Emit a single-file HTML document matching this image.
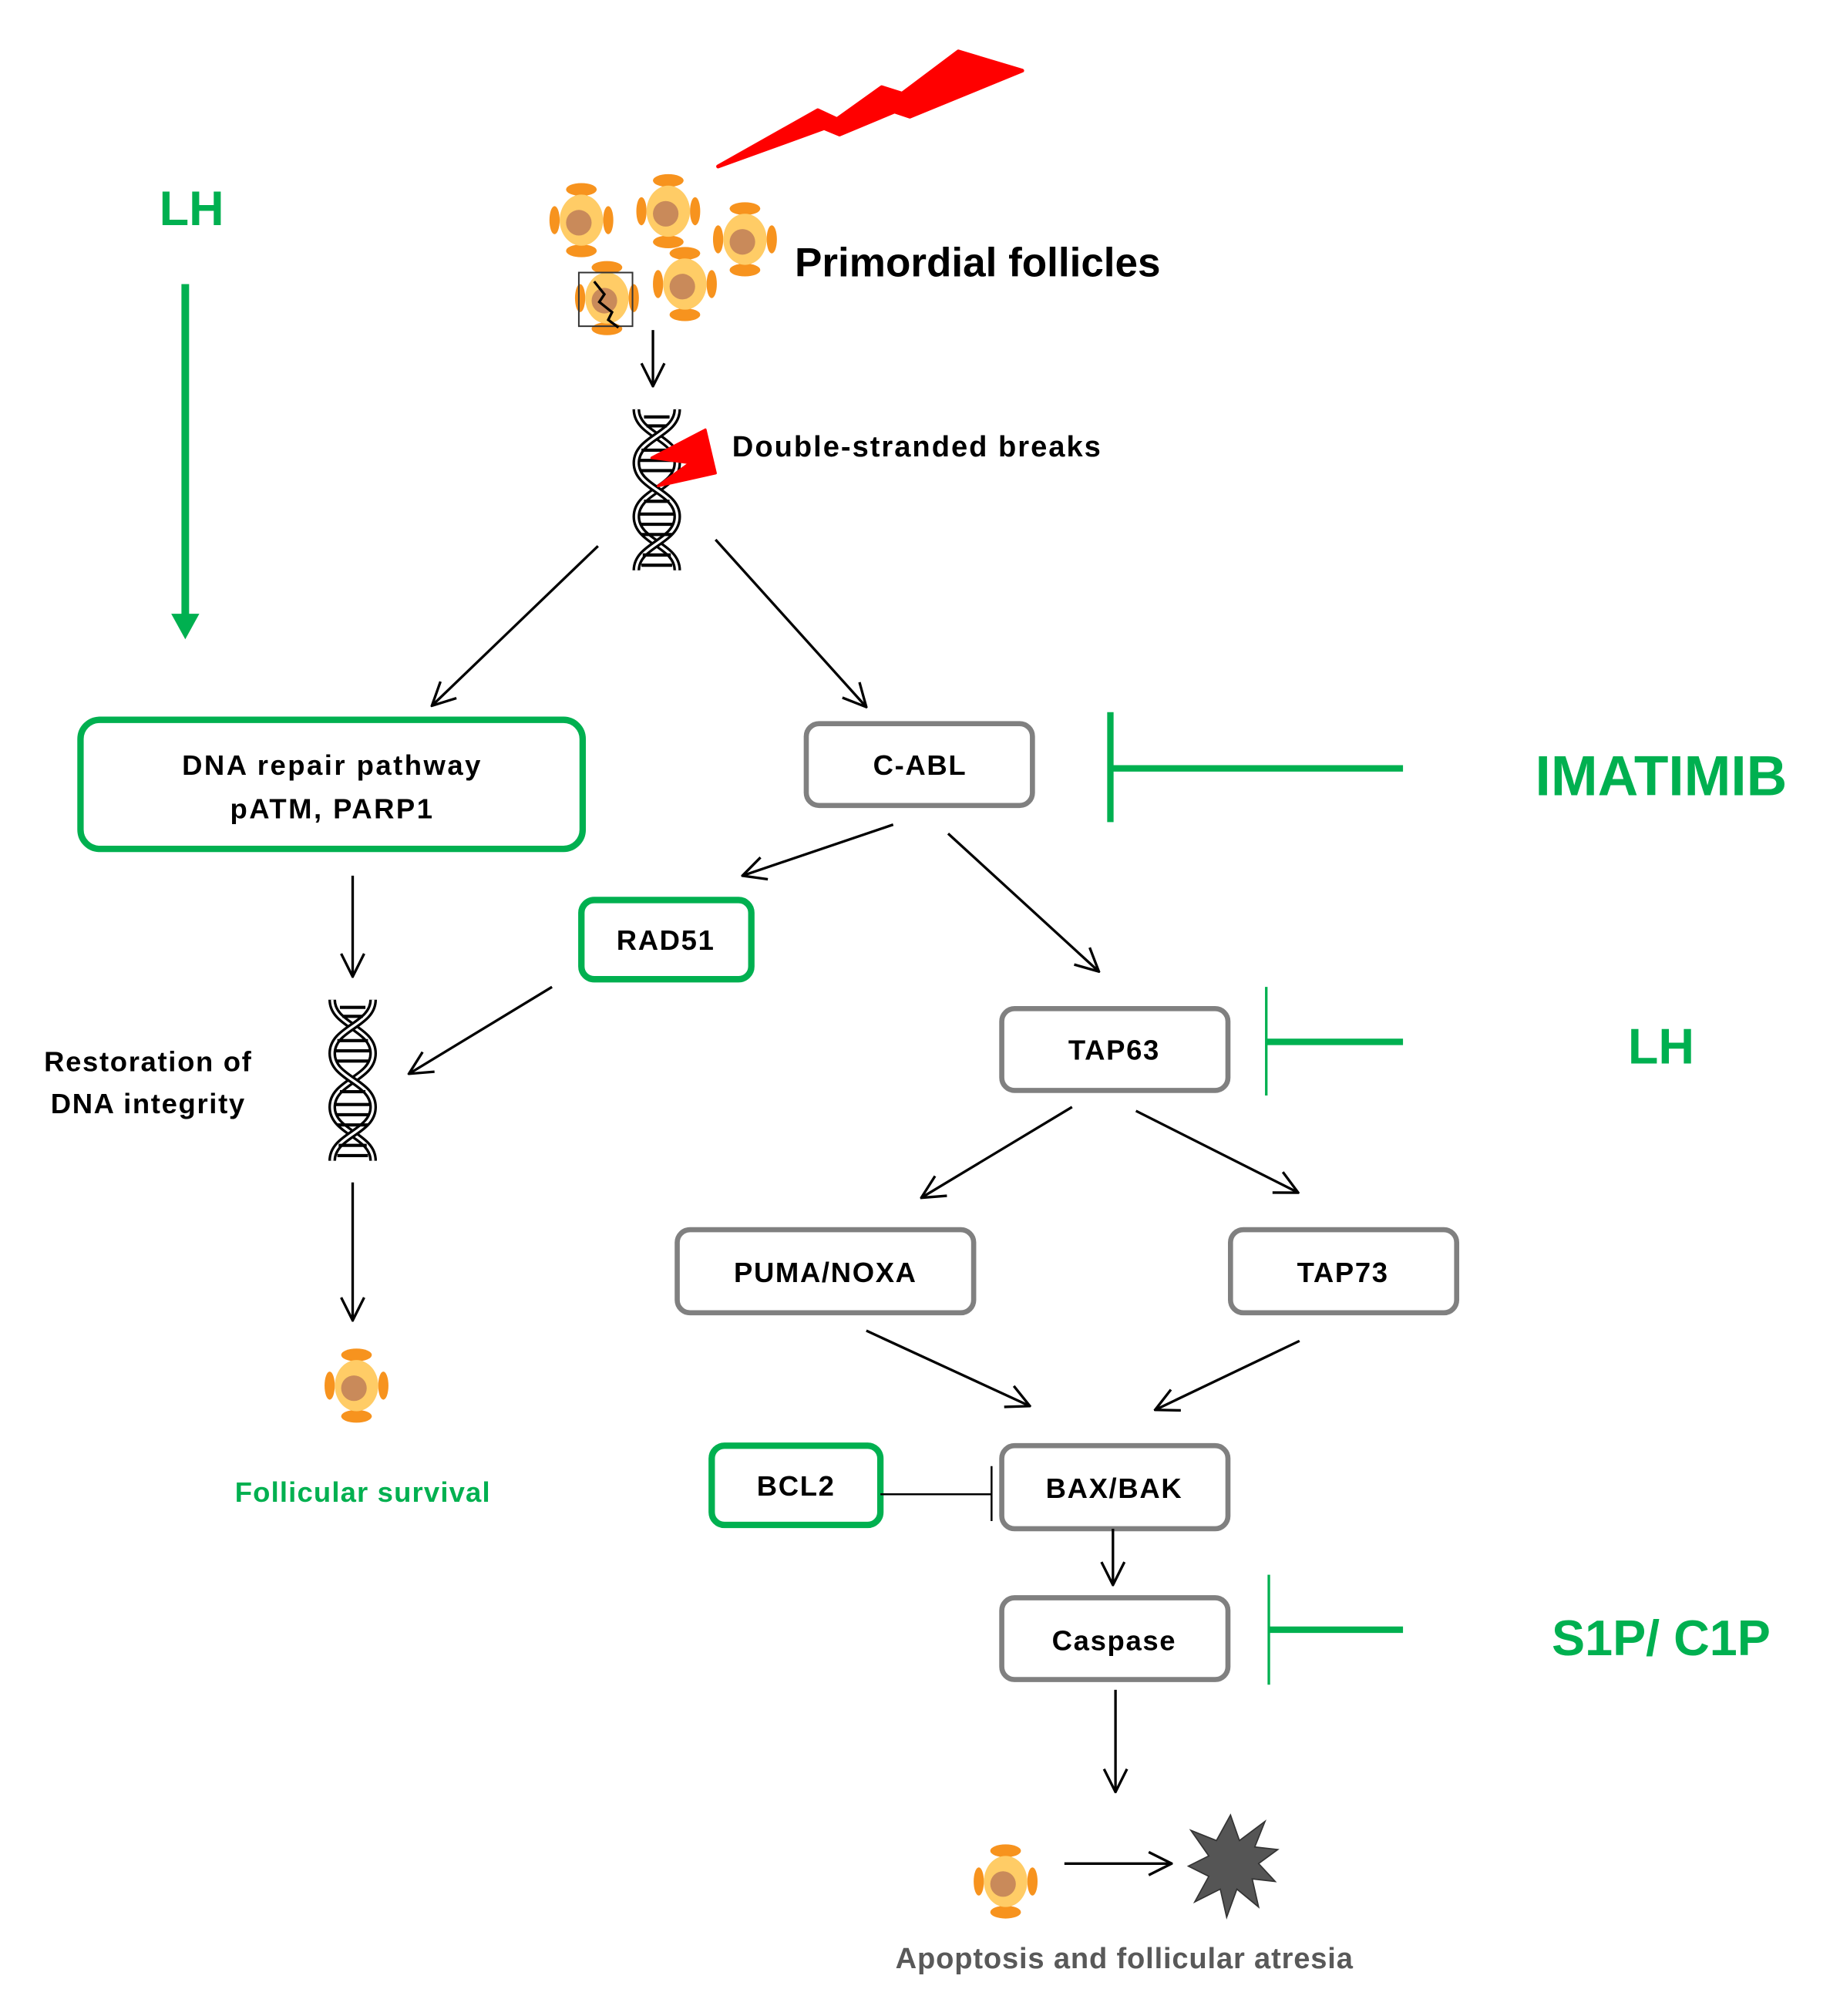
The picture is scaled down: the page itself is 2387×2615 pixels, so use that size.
<!DOCTYPE html>
<html><head><meta charset="utf-8"><style>html,body{margin:0;padding:0;background:#fff}svg{display:block}</style></head>
<body>
<svg width="2387" height="2615" viewBox="0 0 1440 1577" xmlns="http://www.w3.org/2000/svg" font-family="Liberation Sans, sans-serif" font-weight="bold">
<defs>
<marker id="a" viewBox="0 0 20 20" refX="19" refY="10" markerWidth="20" markerHeight="20" markerUnits="userSpaceOnUse" orient="auto">
<path d="M1,1 L19,10 L1,19" fill="none" stroke="#000" stroke-width="2"/></marker>
<g id="f">
<ellipse cx="0" cy="-24" rx="12" ry="5" fill="#f7931e"/>
<ellipse cx="0" cy="24" rx="12" ry="5" fill="#f7931e"/>
<ellipse cx="-21" cy="0" rx="4" ry="11" fill="#f7931e"/>
<ellipse cx="21" cy="0" rx="4" ry="11" fill="#f7931e"/>
<ellipse cx="0" cy="0" rx="17" ry="20" fill="#ffcc66"/>
<circle cx="-2" cy="2" r="10" fill="#c98a5a"/>
</g>
<g id="dna">
<path d="M0,0 C0,20 32,22 32,42 C32,62 0,64 0,84 C0,104 32,106 32,126" fill="none" stroke="#000" stroke-width="6"/>
<path d="M0,0 C0,20 32,22 32,42 C32,62 0,64 0,84 C0,104 32,106 32,126" fill="none" stroke="#fff" stroke-width="2"/>
<path d="M32,0 C32,20 0,22 0,42 C0,62 32,64 32,84 C32,104 0,106 0,126" fill="none" stroke="#000" stroke-width="6"/>
<path d="M32,0 C32,20 0,22 0,42 C0,62 32,64 32,84 C32,104 0,106 0,126" fill="none" stroke="#fff" stroke-width="2"/>
<g stroke="#000" stroke-width="2.5">
<line x1="6" y1="6" x2="26" y2="6"/><line x1="8" y1="13" x2="24" y2="13"/>
<line x1="4" y1="32" x2="28" y2="32"/><line x1="3" y1="40" x2="29" y2="40"/><line x1="3" y1="48" x2="29" y2="48"/>
<line x1="6" y1="72" x2="26" y2="72"/><line x1="3" y1="82" x2="29" y2="82"/><line x1="3" y1="90" x2="29" y2="90"/><line x1="4" y1="98" x2="28" y2="98"/>
<line x1="5" y1="114" x2="27" y2="114"/><line x1="4" y1="122" x2="28" y2="122"/>
</g>
</g>
</defs>
<rect width="1440" height="1577" fill="#fff"/>
<polygon points="562,130 640,86 655,93 690,68 706,73 750,40 800,55 712,91 700,87 657,105 645,100" fill="#f00" stroke="#f00" stroke-width="3" stroke-linejoin="round"/>
<use href="#f" x="455" y="172"/><use href="#f" x="523" y="165"/><use href="#f" x="583" y="187"/><use href="#f" x="475" y="233"/><use href="#f" x="536" y="222"/>
<rect x="453" y="213" width="42" height="42" fill="none" stroke="#333" stroke-width="1.2"/>
<path d="M465,220 l8,10 l-4,6 l10,8 l-3,6 l8,6" fill="none" stroke="#000" stroke-width="2"/>
<text x="622" y="216" font-size="32">Primordial follicles</text>
<line x1="511" y1="258" x2="511" y2="302" stroke="#000" stroke-width="2" marker-end="url(#a)"/>
<use href="#dna" x="498" y="320"/>
<polygon points="510,358 552,336 560,370 515,380 540,362" fill="#f00" stroke="#f00" stroke-width="2" stroke-linejoin="round"/>
<text x="573" y="357" font-size="23" letter-spacing="1.2">Double-stranded breaks</text>
<line x1="468" y1="427" x2="338" y2="552" stroke="#000" stroke-width="2" marker-end="url(#a)"/>
<line x1="560" y1="422" x2="678" y2="553" stroke="#000" stroke-width="2" marker-end="url(#a)"/>
<text x="150" y="176" font-size="38" fill="#00b050" text-anchor="middle">LH</text>
<line x1="145" y1="222" x2="145" y2="483" stroke="#00b050" stroke-width="6"/>
<polygon points="134,480 156,480 145,500" fill="#00b050"/>
<g font-size="22" text-anchor="middle" letter-spacing="1">
<rect x="63" y="563" width="393" height="101" rx="15" fill="none" stroke="#00b050" stroke-width="5"/>
<text x="260" y="606" letter-spacing="1.5">DNA repair pathway</text>
<text x="260" y="640" letter-spacing="1.5">pATM, PARP1</text>
<rect x="631" y="566" width="177" height="64" rx="10" fill="none" stroke="#808080" stroke-width="4"/>
<text x="720" y="606">C-ABL</text>
<rect x="455" y="704" width="133" height="62" rx="10" fill="none" stroke="#00b050" stroke-width="5"/>
<text x="521" y="743">RAD51</text>
<rect x="784" y="789" width="177" height="64" rx="10" fill="none" stroke="#808080" stroke-width="4"/>
<text x="872" y="829">TAP63</text>
<text x="116" y="838">Restoration of</text>
<text x="116" y="871">DNA integrity</text>
<text x="284" y="1175" fill="#00b050" letter-spacing="0.7">Follicular survival</text>
<rect x="530" y="962" width="232" height="65" rx="10" fill="none" stroke="#808080" stroke-width="4"/>
<text x="646" y="1003">PUMA/NOXA</text>
<rect x="963" y="962" width="177" height="65" rx="10" fill="none" stroke="#808080" stroke-width="4"/>
<text x="1051" y="1003">TAP73</text>
<rect x="557" y="1131" width="132" height="62" rx="10" fill="none" stroke="#00b050" stroke-width="5"/>
<text x="623" y="1170">BCL2</text>
<rect x="784" y="1131" width="177" height="65" rx="10" fill="none" stroke="#808080" stroke-width="4"/>
<text x="872" y="1172">BAX/BAK</text>
<rect x="784" y="1250" width="177" height="64" rx="10" fill="none" stroke="#808080" stroke-width="4"/>
<text x="872" y="1291">Caspase</text>
<text x="880" y="1540" font-size="23" fill="#595959" letter-spacing="0.5">Apoptosis and follicular atresia</text>
</g>
<g stroke="#00b050" stroke-width="5"><line x1="869" y1="557" x2="869" y2="643"/><line x1="869" y1="601" x2="1098" y2="601"/></g>
<text x="1300" y="622" font-size="44" fill="#00b050" text-anchor="middle">IMATIMIB</text>
<line x1="699" y1="645" x2="581" y2="685" stroke="#000" stroke-width="2" marker-end="url(#a)"/>
<line x1="742" y1="652" x2="860" y2="760" stroke="#000" stroke-width="2" marker-end="url(#a)"/>
<line x1="432" y1="772" x2="320" y2="840" stroke="#000" stroke-width="2" marker-end="url(#a)"/>
<g stroke="#00b050" stroke-width="5"><line x1="991" y1="772" x2="991" y2="857" stroke-width="2"/><line x1="991" y1="815" x2="1098" y2="815"/></g>
<text x="1300" y="832" font-size="39" fill="#00b050" text-anchor="middle">LH</text>
<line x1="276" y1="685" x2="276" y2="764" stroke="#000" stroke-width="2" marker-end="url(#a)"/>
<use href="#dna" x="260" y="782"/>
<line x1="276" y1="925" x2="276" y2="1033" stroke="#000" stroke-width="2" marker-end="url(#a)"/>
<use href="#f" x="279" y="1084"/>
<line x1="839" y1="866" x2="721" y2="937" stroke="#000" stroke-width="2" marker-end="url(#a)"/>
<line x1="889" y1="869" x2="1016" y2="933" stroke="#000" stroke-width="2" marker-end="url(#a)"/>
<line x1="678" y1="1041" x2="806" y2="1100" stroke="#000" stroke-width="2" marker-end="url(#a)"/>
<line x1="1017" y1="1049" x2="904" y2="1103" stroke="#000" stroke-width="2" marker-end="url(#a)"/>
<line x1="689" y1="1169" x2="776" y2="1169" stroke="#000" stroke-width="1.5"/>
<line x1="776" y1="1147" x2="776" y2="1190" stroke="#000" stroke-width="1.5"/>
<line x1="871" y1="1196" x2="871" y2="1240" stroke="#000" stroke-width="2" marker-end="url(#a)"/>
<g stroke="#00b050" stroke-width="5"><line x1="993" y1="1232" x2="993" y2="1318" stroke-width="2"/><line x1="993" y1="1275" x2="1098" y2="1275"/></g>
<text x="1300" y="1295" font-size="39" fill="#00b050" text-anchor="middle">S1P/ C1P</text>
<line x1="873" y1="1322" x2="873" y2="1402" stroke="#000" stroke-width="2" marker-end="url(#a)"/>
<use href="#f" x="787" y="1472"/>
<line x1="833" y1="1458" x2="917" y2="1458" stroke="#000" stroke-width="2" marker-end="url(#a)"/>
<polygon points="963,1420 970,1440 990,1425 982,1445 1000,1447 985,1458 998,1472 980,1470 985,1492 968,1478 960,1500 955,1478 935,1488 946,1468 930,1460 946,1452 932,1432 952,1440" fill="#555" stroke="#333" stroke-width="1"/>
</svg>
</body></html>
